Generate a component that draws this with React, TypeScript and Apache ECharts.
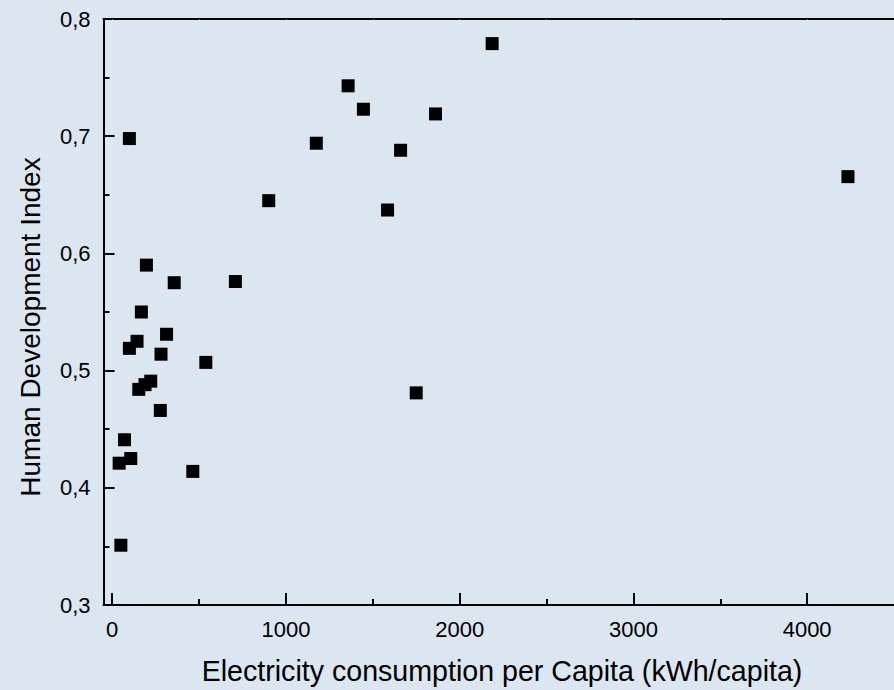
import React, { useEffect, useRef } from 'react';
import * as echarts from 'echarts';

// Electricity consumption per capita (kWh/capita) vs Human Development Index
const electricity = [
  2187, 4235, 1358, 1446, 1861, 99, 1175, 1660, 901, 1585,
  197, 357, 709, 168, 313, 143, 99, 281, 539, 1750,
  222, 189, 153, 277, 71, 107, 40, 464, 50,
];
const hdi = [
  0.779, 0.6655, 0.743, 0.723, 0.719, 0.698, 0.694, 0.688, 0.645, 0.637,
  0.590, 0.575, 0.576, 0.550, 0.531, 0.525, 0.519, 0.514, 0.507, 0.481,
  0.491, 0.488, 0.484, 0.466, 0.441, 0.425, 0.421, 0.414, 0.351,
];
const xTickValues = [0, 1000, 2000, 3000, 4000];
const xTickLabels = ['0', '1000', '2000', '3000', '4000'];
const xMinorTickValues = [500, 1500, 2500, 3500];
const yTickLabels = ['0,3', '0,4', '0,5', '0,6', '0,7', '0,8'];
const xTitle = 'Electricity consumption per Capita (kWh/capita)';
const yTitle = 'Human Development Index';

const FONT = 'Arial, "Liberation Sans", Helvetica, sans-serif';

export default function App() {
  const ref = useRef<HTMLDivElement>(null);
  useEffect(() => {
    const chart = echarts.init(ref.current!, null, { renderer: 'svg' });
    const points = electricity.map((x, i) => [x, hdi[i]]);
    chart.setOption({
      animation: false,
      backgroundColor: '#dce6f1',
      textStyle: { fontFamily: FONT },
      grid: { left: 103.5, right: -3.25, top: 19, bottom: 85, containLabel: false },
      xAxis: [
        {
          type: 'value',
          position: 'bottom',
          min: -50,
          max: 4500,
          axisLine: { show: true, onZero: false, lineStyle: { color: '#000', width: 2 } },
          axisTick: { show: true, inside: true, length: 12, customValues: xTickValues, lineStyle: { color: '#000', width: 2 } },
          axisLabel: {
            show: true,
            customValues: xTickValues,
            fontSize: 22,
            margin: 13,
            color: '#000',
            fontFamily: FONT,
            formatter: (v: number) => {
              const i = xTickValues.indexOf(Math.round(v));
              return i >= 0 ? xTickLabels[i] : '';
            },
          },
          splitLine: { show: false },
        },
        {
          type: 'value',
          position: 'bottom',
          min: -50,
          max: 4500,
          axisLine: { show: false },
          axisTick: { show: true, inside: true, length: 6, customValues: xMinorTickValues, lineStyle: { color: '#000', width: 2 } },
          axisLabel: { show: false },
          splitLine: { show: false },
        },
        {
          type: 'value',
          position: 'top',
          min: -50,
          max: 4500,
          axisLine: { show: true, onZero: false, lineStyle: { color: '#000', width: 2 } },
          axisTick: { show: true, inside: true, length: 1, customValues: xMinorTickValues.concat(xTickValues), lineStyle: { color: '#666', width: 1 } },
          axisLabel: { show: false },
          splitLine: { show: false },
        },
      ],
      yAxis: [
        {
          type: 'value',
          min: 0.3,
          max: 0.8,
          interval: 0.1,
          axisLine: { show: true, onZero: false, lineStyle: { color: '#000', width: 2 } },
          axisTick: { show: true, inside: true, length: 11, lineStyle: { color: '#000', width: 2 } },
          minorTick: { show: true, splitNumber: 2, length: 6, lineStyle: { color: '#000', width: 2 } },
          axisLabel: {
            fontSize: 22,
            margin: 13,
            color: '#000',
            fontFamily: FONT,
            formatter: (v: number) => yTickLabels[Math.round((v - 0.3) * 10)] ?? '',
          },
          splitLine: { show: false },
          minorSplitLine: { show: false },
        },
      ],
      graphic: [
        {
          type: 'text',
          x: 30,
          y: 327,
          rotation: Math.PI / 2,
          style: { text: yTitle, font: `28px ${FONT}`, fill: '#000', align: 'center', verticalAlign: 'middle' },
        },
        {
          type: 'text',
          x: 502,
          y: 671,
          style: { text: xTitle, font: `28.6px ${FONT}`, fill: '#000', align: 'center', verticalAlign: 'middle' },
        },
      ],
      series: [
        {
          type: 'scatter',
          xAxisIndex: 0,
          yAxisIndex: 0,
          symbol: 'rect',
          symbolSize: 13,
          itemStyle: { color: '#000', opacity: 1 },
          emphasis: { disabled: true },
          data: points,
        },
      ],
    });
    return () => chart.dispose();
  }, []);
  return <div ref={ref} style={{ position: 'fixed', left: 0, top: 0, width: 894, height: 690 }} />;
}
